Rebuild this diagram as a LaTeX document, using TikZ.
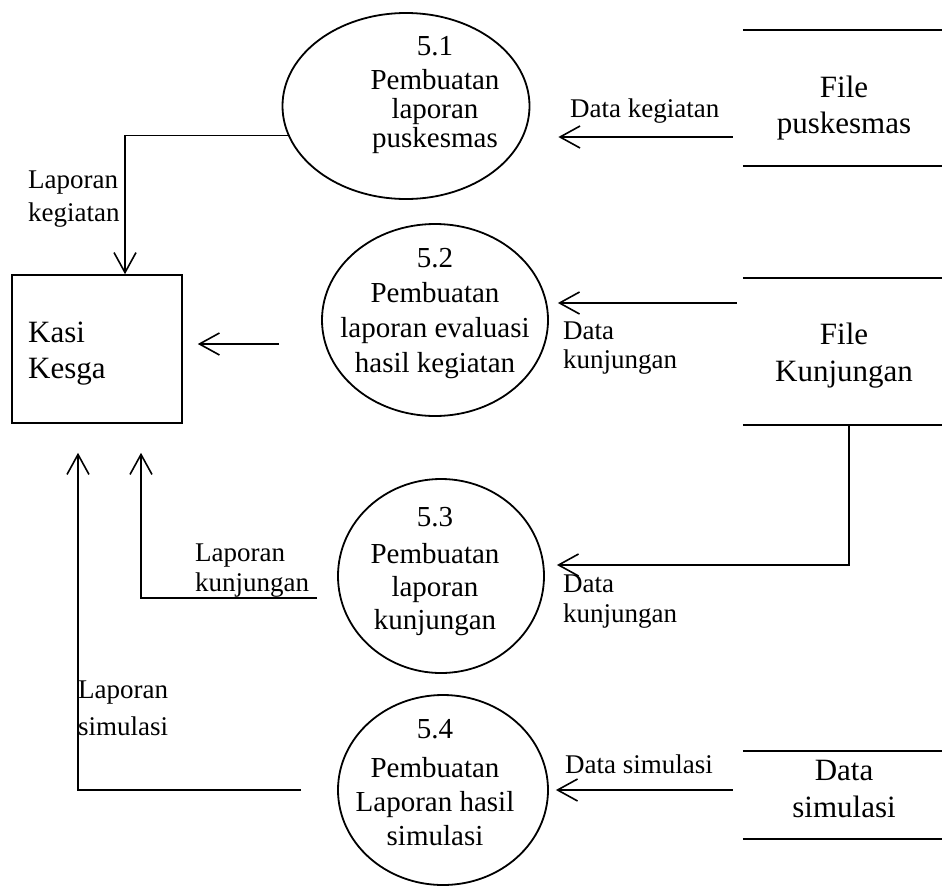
\documentclass[tikz,border=0pt]{standalone}
\usepackage{fontspec}
\setmainfont{Liberation Serif}
\usetikzlibrary{shapes.geometric,arrows.meta}

% multi-line text whose reference point is the baseline of its first line
\newcommand{\dfdstack}[2]{\begin{tabular}[t]{@{}#1@{}}#2\end{tabular}}

\begin{document}
\begin{tikzpicture}[x=1pt,y=-1pt,
  proc/.style={draw,ellipse,line width=1.8pt,inner sep=0pt},
  entity/.style={draw,rectangle,line width=1.6pt,inner sep=0pt},
  store/.style={rectangle,inner sep=0pt},
  storeline/.style={line width=1.8pt},
  proctext/.style={anchor=base,inner sep=0pt,font=\fontsize{29}{33}\selectfont},
  storetext/.style={anchor=base,inner sep=0pt,font=\fontsize{31}{37}\selectfont},
  flowlabel/.style={anchor=base west,inner sep=0pt,font=\fontsize{27}{30}\selectfont},
  flow/.style={line width=1.8pt,-{Straight Barb[length=20pt,width=22pt,line width=1.6pt]}}]

\useasboundingbox (0,0) rectangle (942,886);

% external entity
\node[entity,minimum width=170pt,minimum height=148pt] (kasi) at (97,349) {};
\node[anchor=base west,inner sep=0pt,font=\fontsize{31}{36}\selectfont] (kasitext) at (28,342)
  {\dfdstack{l}{Kasi\\Kesga}};

% processes
\node[proc,minimum width=247pt,minimum height=186pt] (p1) at (406,106) {};
\node[proctext,font=\fontsize{29}{29}\selectfont] (p1text) at (435,55)
  {\dfdstack{c}{5.1\\[5pt]Pembuatan\\laporan\\puskesmas}};

\node[proc,minimum width=226pt,minimum height=192pt] (p2) at (435,320) {};
\node[proctext,font=\fontsize{29}{35}\selectfont] (p2text) at (435,267)
  {\dfdstack{c}{5.2\\Pembuatan\\laporan evaluasi\\hasil kegiatan}};

\node[proc,minimum width=206pt,minimum height=194pt] (p3) at (441,576) {};
\node[proctext] (p3text) at (435,526)
  {\dfdstack{c}{5.3\\[4pt]Pembuatan\\laporan\\kunjungan}};

\node[proc,minimum width=210pt,minimum height=190pt] (p4) at (443,790) {};
\node[proctext,font=\fontsize{29}{34}\selectfont] (p4text) at (435,738)
  {\dfdstack{c}{5.4\\[5pt]Pembuatan\\Laporan hasil\\simulasi}};

% data stores (open-ended, top and bottom lines only)
\node[store,minimum width=199pt,minimum height=136pt] (s1) at (842.5,98) {};
\node[store,minimum width=199pt,minimum height=147pt] (s2) at (842.5,351.5) {};
\node[store,minimum width=199pt,minimum height=88pt] (s3) at (842.5,795) {};
\foreach \s in {s1,s2,s3}{
  \draw[storeline] (\s.north west) -- (\s.north east);
  \draw[storeline] (\s.south west) -- (\s.south east);
}
\node[storetext,font=\fontsize{31}{36}\selectfont] (s1text) at (844,97) {\dfdstack{c}{File\\puskesmas}};
\node[storetext] (s2text) at (844,344) {\dfdstack{c}{File\\Kunjungan}};
\node[storetext] (s3text) at (844,780) {\dfdstack{c}{Data\\simulasi}};

% data flows
\draw[flow] (p1.194) -| ([xshift=28pt]kasi.north);
\draw[flow,shorten <=42pt,shorten >=15pt] (p2.west |- 0,344) -- ([yshift=5pt]kasi.east);
\draw[flow,shorten <=20pt,shorten >=29pt] ([yshift=-22pt]p3.west) -| ([xshift=44pt]kasi.south);
\draw[flow,shorten <=36pt,shorten >=29pt] (p4.west) -| ([xshift=-19pt]kasi.south);

\draw[flow,shorten <=10pt,shorten >=28pt] ([yshift=-39pt]s1.west) -- ([yshift=-39pt]s1.west -| p1.east);
\draw[flow,shorten <=6pt,shorten >=9pt] ([yshift=48.5pt]s2.west) -- ([yshift=48.5pt]s2.west -| p2.east);
\draw[flow,shorten >=12pt] ([xshift=6.5pt]s2.south) |- ([yshift=11pt]p3.east);
\draw[flow,shorten <=10pt,shorten >=7pt] (s3.west |- p4.east) -- (p4.east);

% flow labels
\node[flowlabel,font=\fontsize{27}{33}\selectfont] (l1) at (28,188) {\dfdstack{l}{Laporan\\kegiatan}};
\node[flowlabel] (l2) at (570,117) {Data kegiatan};
\node[flowlabel,font=\fontsize{27}{29}\selectfont] (l3) at (563,339) {\dfdstack{l}{Data\\kunjungan}};
\node[flowlabel] (l4) at (563,592) {\dfdstack{l}{Data\\kunjungan}};
\node[flowlabel] (l5) at (565,773) {Data simulasi};
\node[flowlabel] (l6) at (195,561) {\dfdstack{l}{Laporan\\kunjungan}};
\node[flowlabel,font=\fontsize{27}{37}\selectfont] (l7) at (78,698) {\dfdstack{l}{Laporan\\simulasi}};

\end{tikzpicture}
\end{document}
